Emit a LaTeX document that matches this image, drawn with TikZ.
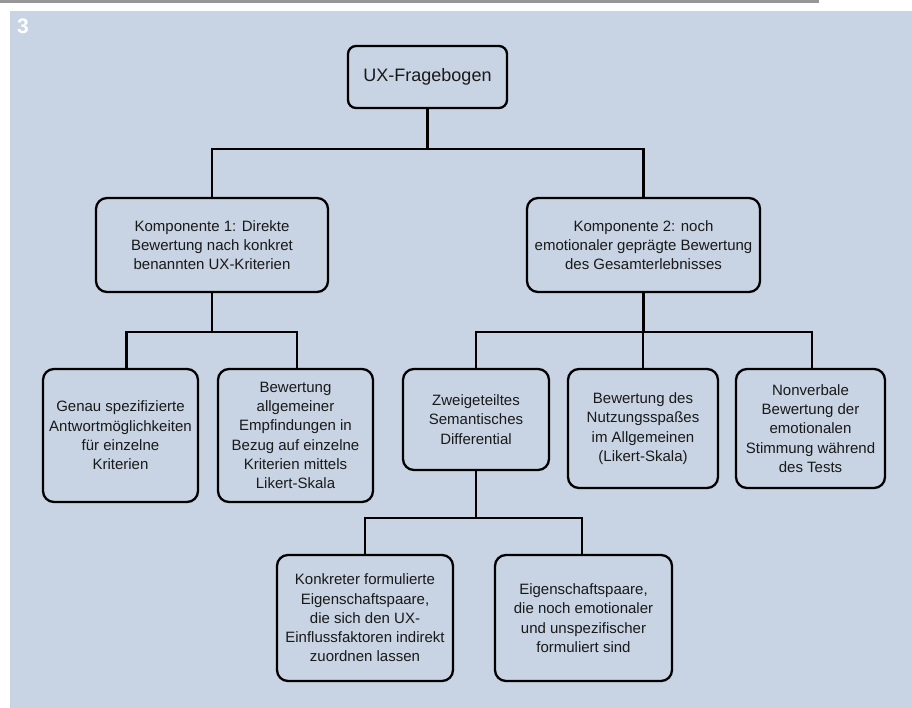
\documentclass[tikz,border=0pt]{standalone}
\usepackage{fontspec}
\setmainfont{Liberation Sans}
\definecolor{panelblue}{RGB}{200,212,227}
\definecolor{stripgray}{RGB}{150,150,150}
\definecolor{inkblack}{RGB}{25,25,25}
\tikzset{
  box/.style={draw=black, line width=2.3pt, rounded corners=11pt, align=center,
    inner sep=0pt, text=inkblack, font=\fontsize{15}{19.3}\selectfont},
  link/.style={line width=2.3pt}
}
\begin{document}
\begin{tikzpicture}[x=1pt, y=-1pt]
      % Page background and panel
      \useasboundingbox (0,0) rectangle (912,708);
      \fill[stripgray] (0,0) rectangle (819,3);
      \fill[panelblue] (10,11) rectangle (912,708);
      \node[text=white, font=\bfseries\fontsize{21}{21}\selectfont] (fig) at (23,26.5) {3};

      % Draw the root
      \node[box, rounded corners=8pt, minimum width=159pt, minimum height=62pt,
      font=\fontsize{18}{22}\selectfont] (ux) at (427.5,77) {UX-Fragebogen};

      % Draw the two components
      \node[box, minimum width=232pt, minimum height=94pt] (k1) at (212,245)
      {Komponente 1: Direkte\\Bewertung nach konkret\\benannten UX-Kriterien};
      \node[box, minimum width=233pt, minimum height=94pt] (k2) at (643.5,245)
      {Komponente 2: noch\\emotionaler geprägte Bewertung\\des Gesamterlebnisses};

      % Draw the leaves of component 1
      \node[box, minimum width=155pt, minimum height=133pt] (a1) at (120.5,435.5)
      {Genau spezifizierte\\Antwortmöglichkeiten\\für einzelne\\Kriterien};
      \node[box, minimum width=155pt, minimum height=133pt] (a2) at (295.5,435.5)
      {Bewertung\\allgemeiner\\Empfindungen in\\Bezug auf einzelne\\Kriterien mittels\\Likert-Skala};

      % Draw the leaves of component 2
      \node[box, minimum width=146pt, minimum height=101pt] (b1) at (476,419.5)
      {Zweigeteiltes\\Semantisches\\Differential};
      \node[box, minimum width=150pt, minimum height=119pt] (b2) at (643,428.5)
      {Bewertung des\\Nutzungsspaßes\\im Allgemeinen\\(Likert-Skala)};
      \node[box, minimum width=149pt, minimum height=119pt] (b3) at (810.5,428.5)
      {Nonverbale\\Bewertung der\\emotionalen\\Stimmung während\\des Tests};

      % Draw the two kinds of pairs
      \node[box, minimum width=176pt, minimum height=126pt] (c1) at (365,618)
      {Konkreter formulierte\\Eigenschaftspaare,\\die sich den UX-\\Einflussfaktoren indirekt\\zuordnen lassen};
      \node[box, minimum width=177pt, minimum height=126pt] (c2) at (583.5,618)
      {Eigenschaftspaare,\\die noch emotionaler\\und unspezifischer\\formuliert sind};

      % Connect the tree
      \draw[link] (ux.south) -- ++(0,40) -| (k1.north);
      \draw[link] (ux.south) -- ++(0,40) -| (k2.north);
      \draw[link] (k1.south) -- ++(0,39) -| ([xshift=6pt]a1.north);
      \draw[link] (k1.south) -- ++(0,39) -| ([xshift=1.5pt]a2.north);
      \draw[link] (k2.south) -- ++(0,39) -| (b1.north);
      \draw[link] (k2.south) -- ++(0,39) -| (b2.north);
      \draw[link] (k2.south) -- ++(0,39) -| ([xshift=1.5pt]b3.north);
      \draw[link] (b1.south) -- ++(0,47) -| (c1.north);
      \draw[link] (b1.south) -- ++(0,47) -| ([xshift=-1.5pt]c2.north);
    \end{tikzpicture}
\end{document}
